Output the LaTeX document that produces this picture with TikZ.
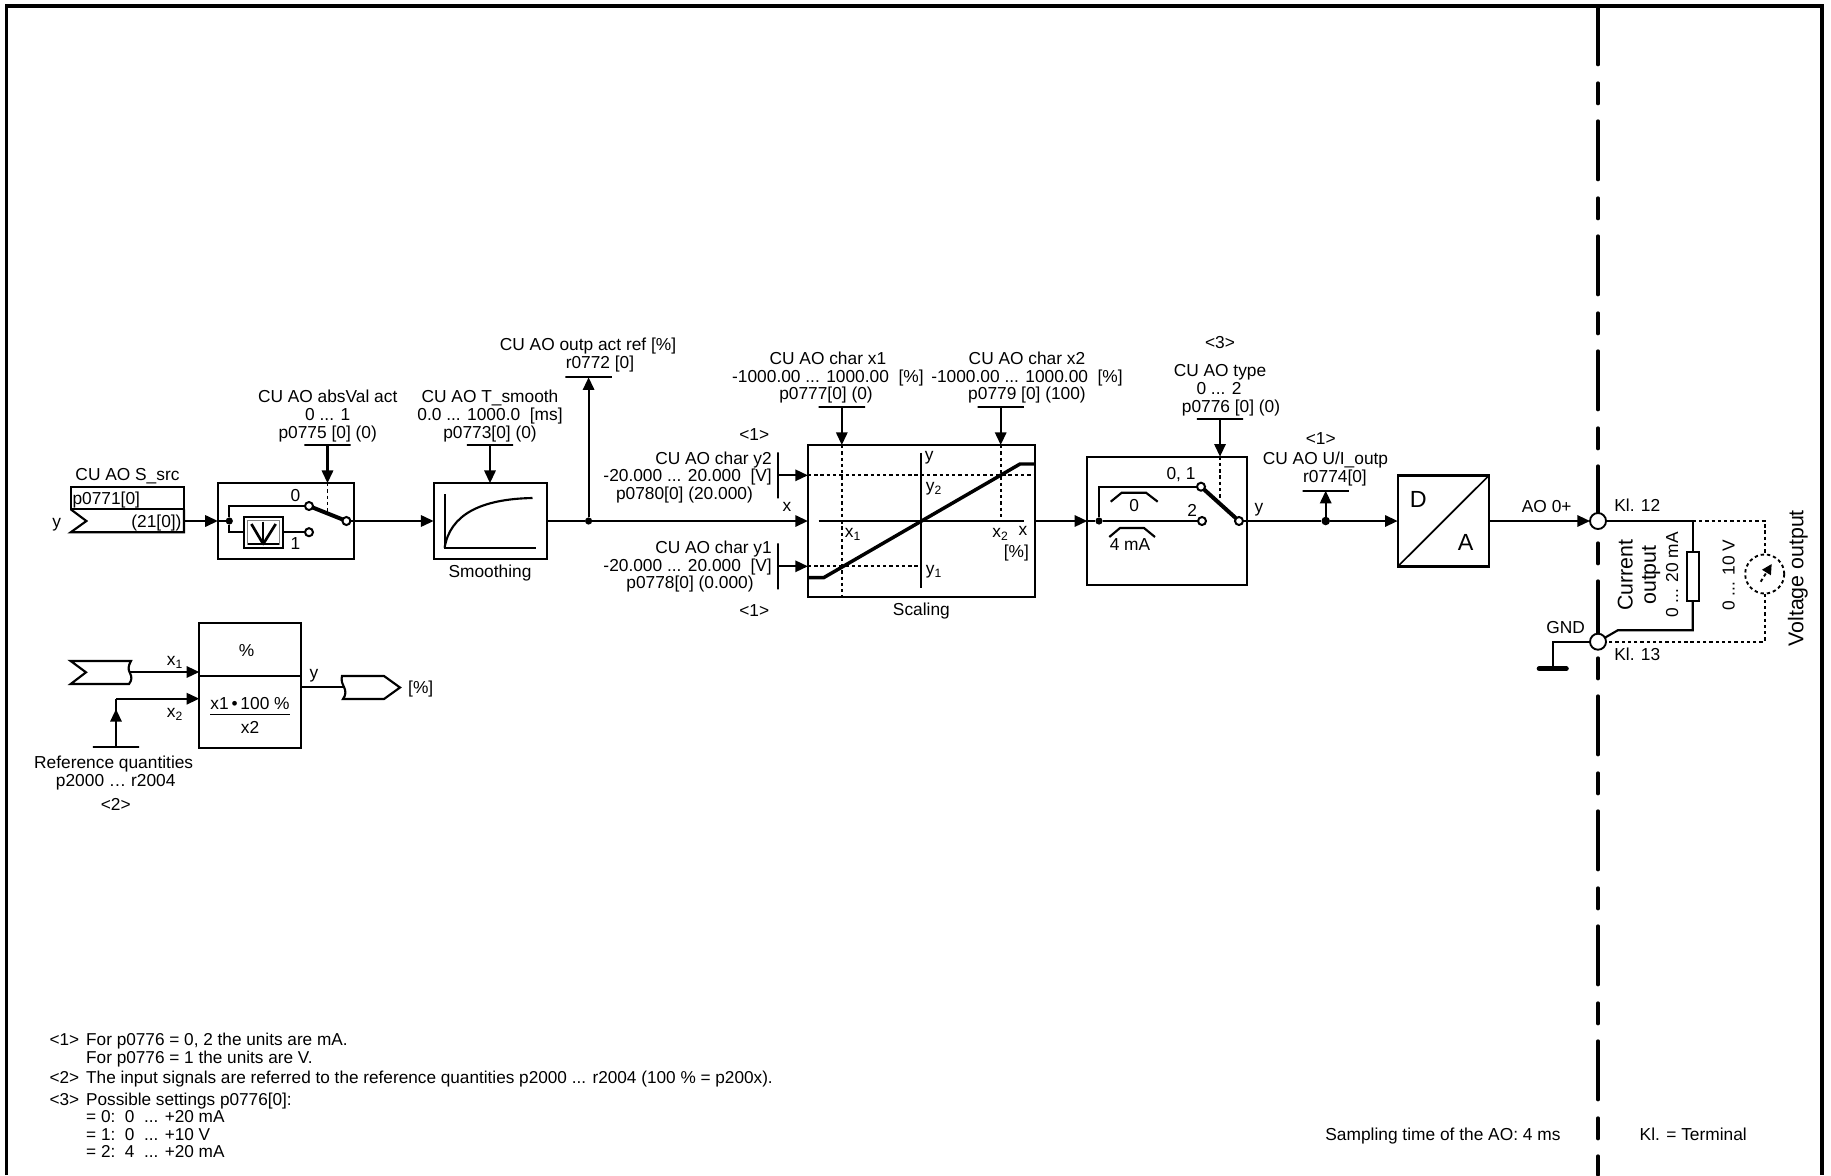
\documentclass[tikz,border=0pt]{standalone}
\usepackage{fontspec}
\setmainfont{Liberation Sans}
\usetikzlibrary{arrows.meta}

\tikzset{every picture/.style={line width=0.75pt}}
\tikzset{
txt/.style={inner sep=0pt, outer sep=0pt, text height=9.3pt, text depth=0pt, font=\fontsize{13}{15}\selectfont},
notetxt/.style={txt, anchor=west, font=\fontsize{12.9}{15}\selectfont},
bigtxt/.style={inner sep=0pt, outer sep=0pt, text height=11.5pt, text depth=0pt, font=\fontsize{16}{19}\selectfont},
hugetxt/.style={inner sep=0pt, outer sep=0pt, text height=12.6pt, text depth=0pt, font=\fontsize{17.5}{20}\selectfont},
blockbox/.style={draw, rectangle, inner sep=0pt, outer sep=0pt, line width=1.6pt},
wire/.style={line width=1.6pt},
sig/.style={line width=1.6pt, -{Triangle[length=9.5pt,width=8.5pt]}},
heavy/.style={line width=3pt, line join=round},
dotline/.style={line width=1.4pt, dash pattern=on 2.5pt off 2.2pt},
contact/.style={draw, circle, fill=white, inner sep=0pt, outer sep=0pt, minimum size=6pt, line width=1.5pt},
terminal/.style={draw, circle, fill=white, inner sep=0pt, outer sep=0pt, minimum size=12pt, line width=1.4pt},
dot/.style={circle, fill=black, inner sep=0pt, outer sep=0pt, minimum size=5.4pt},
parbar/.style={draw, rectangle, inner sep=0pt, outer sep=0pt, minimum width=34.8pt, minimum height=0pt, line width=1.5pt},
parbarv/.style={draw, rectangle, inner sep=0pt, outer sep=0pt, minimum width=0pt, minimum height=34.5pt, line width=1.5pt},
sepline/.style={line width=2.5pt, line cap=round, dash pattern=on 44pt off 13.75pt on 15.5pt off 13pt},
frameline/.style={line width=2.8pt}
}

\begin{document}
\begin{tikzpicture}[x=0.75pt,y=0.75pt,yscale=-1,xscale=1]
\useasboundingbox (0,0) rectangle (1831,1175);

%Frame and boundary
\draw [frameline] (6.5,1175) -- (6.5,6) -- (1822,6) -- (1822,1175) ;
\draw [sepline] (1598,6) -- (1598,1175) ;

%Blocks
\node [blockbox, minimum width=85pt, minimum height=16.7pt] (srcpar) at (127.35,498.15) {};
\node [blockbox, minimum width=102.3pt, minimum height=56.8pt] (absbox) at (286.1,521) {};
\node [blockbox, minimum width=29pt, minimum height=23.3pt] (absicon) at (263.6,532.2) {};
\node [blockbox, minimum width=85.1pt, minimum height=56.8pt] (smoothbox) at (490.35,521) {};
\node [blockbox, minimum width=170.3pt, minimum height=114pt] (scalebox) at (921.45,521) {};
\node [blockbox, minimum width=119.6pt, minimum height=96.5pt] (typebox) at (1167,521) {};
\node [blockbox, minimum width=68.5pt, minimum height=68.3pt] (dabox) at (1443.35,521) {};
\node [blockbox, minimum width=76.3pt, minimum height=39.5pt] (pcttop) at (250.15,649.65) {};
\node [blockbox, minimum width=76.3pt, minimum height=53.8pt] (pctbot) at (250.15,711.85) {};
\node [draw, rectangle, fill=white, inner sep=0pt, outer sep=0pt, minimum width=9pt, minimum height=36.8pt, line width=1.4pt] (resistor) at (1692.7,576.2) {};
\node [draw, circle, inner sep=0pt, outer sep=0pt, minimum size=29.3pt, dotline] (meter) at (1764.7,574) {};

%Contacts and junctions
\node [contact] (abszero) at (309,506) {};
\node [contact] (absone) at (309,532.2) {};
\node [contact] (absout) at (346.4,521) {};
\node [contact] (typezero) at (1201,486.7) {};
\node [contact] (typetwo) at (1202,521) {};
\node [contact] (typeout) at (1239,521) {};
\node [dot] (absdot) at (229.3,521) {};
\node [dot] (outdot) at (588.6,521) {};
\node [dot] (typedot) at (1099,521) {};
\node [dot, minimum size=6.4pt] (uidot) at (1325.7,521) {};
\node [terminal] (klup) at (1598,521) {};
\node [terminal] (kldown) at (1598,641.7) {};

%Parameter bars
\node [parbar] (absbar) at (327.5,445.3) {};
\node [parbar] (smoothbar) at (490,445.3) {};
\node [parbar] (outbar) at (588.6,377.3) {};
\node [parbar] (xonebar) at (841.8,407.3) {};
\node [parbar] (xtwobar) at (1000.7,407.3) {};
\node [parbar] (typebar) at (1220,418.7) {};
\node [parbar] (uibar) at (1325.7,490.7) {};
\node [parbar] (refbar) at (116,747.3) {};
\node [parbarv] (ytwobar) at (777.9,475.3) {};
\node [parbarv] (yonebar) at (777.9,566.3) {};

\coordinate (srcout) at (184,521);
\coordinate (xoneout) at (129,672);
\coordinate (xtwocorner) at (116,698.7);
\coordinate (pctout) at (343,687);
\coordinate (jtop) at (1692.7,521);
\coordinate (jbot) at (1692.7,630.3);
\coordinate (jbend) at (1617.7,630.3);
\coordinate (gndpt) at (1552.7,668.7);

%Source and sink shapes
\draw [wire] (70.7,509.3) -- (86.4,521) -- (70.7,532.3) -- (184,532.3) -- (184,509.3) ;
\draw [wire] (131,661) -- (70.7,661) -- (86,672.3) -- (70.7,684) -- (129,684) .. controls (132,680) and (132,677) .. (130,673) .. controls (128,670) and (128,666) .. (131,661) -- cycle ;
\draw [wire] (342,676) -- (384,676) -- (400,687.5) -- (384,699) -- (343,699) .. controls (346,695) and (346,691) .. (344,687) .. controls (342,683) and (341,680) .. (342,676) -- cycle ;

%Connectors
\draw [sig] (srcout) -- (absbox.west) ;
\draw [wire] (absbox.west) -- (absdot) ;
\draw [wire] (absdot) |- (abszero) ;
\draw [wire] (absdot) |- (absicon) ;
\draw [wire] (absicon) -- (absone) ;
\draw [heavy] (abszero) -- (absout) ;
\draw [sig] (absout) -- (smoothbox.west) ;
\draw [wire] (smoothbox.east) -- (outdot) ;
\draw [sig] (outdot) -- (scalebox.west) ;
\draw [sig] (outdot) -- (outbar) ;
\draw [sig] (scalebox.east) -- (typebox.west) ;
\draw [wire] (typebox.west) -- (typedot) ;
\draw [wire] (typedot) |- (typezero) ;
\draw [wire] (typedot) -- (typetwo) ;
\draw [heavy] (typezero) -- (typeout) ;
\draw [wire] (typeout) -- (uidot) ;
\draw [sig] (uidot) -- (dabox.west) ;
\draw [sig] (uidot) -- (uibar) ;
\draw [sig] (dabox.east) -- (klup) ;
\draw [wire] (klup) -- (jtop) -- (resistor) ;
\draw [wire] (resistor) -- (jbot) -- (jbend) -- (kldown) ;
\draw [wire] (kldown) -| (gndpt) ;
\draw [line width=3.8pt, line cap=round] (gndpt) ++(-13.5,0) -- ++(27,0) ;
\draw [dotline] (jtop) -- (jtop -| meter) -- (meter) ;
\draw [dotline] (meter) |- (kldown) ;
\draw [sig] (absbar) -- (absbar |- absbox.north) ;
\draw [sig] (smoothbar) -- (smoothbar |- smoothbox.north) ;
\draw [sig] (xonebar) -- (xonebar |- scalebox.north) ;
\draw [sig] (xtwobar) -- (xtwobar |- scalebox.north) ;
\draw [sig] (typebar) -- (typebar |- typebox.north) ;
\draw [sig] (ytwobar) -- (ytwobar -| scalebox.west) ;
\draw [sig] (yonebar) -- (yonebar -| scalebox.west) ;
\draw [sig] (xoneout) -- (xoneout -| pcttop.west) ;
\draw [sig] (refbar) -- (xtwocorner |- 0,709) ;
\draw [wire] (xtwocorner |- 0,712) -- (xtwocorner) ;
\draw [sig] (xtwocorner) -- (xtwocorner -| pctbot.west) ;
\draw [wire] (pctout -| pctbot.east) -- (pctout) ;

%Switch dash lines
\draw [dotline] (absbar |- absbox.north) -- (327.5,513) ;
\draw [dotline] (typebar |- typebox.north) -- (1220,499) ;
\draw [dotline] (xonebar |- scalebox.north) -- (xonebar |- scalebox.south) ;
\draw [dotline] (xtwobar |- scalebox.north) -- (xtwobar |- scalebox.center) ;
\draw [dotline] (ytwobar -| scalebox.west) -- (ytwobar -| scalebox.east) ;
\draw [dotline] (yonebar -| scalebox.west) -- (yonebar -| scalebox.center) ;

%Absolute value icon
\draw [gray, line width=0.7pt] (247.6,520) rectangle (279.6,544.4) ;
\draw [line width=2pt, line join=round] (251.4,524) -- (263.2,544) -- (275.7,524) ;
\draw [wire] (263.2,521.7) -- (263.2,544) ;
\draw [wire] (247.9,543.7) -- (279.3,543.7) ;

%Smoothing curve
\draw [wire] (444.6,494.3) -- (444.6,547.7) -- (536,547.7) ;
\draw [wire] (444.6,547.7) .. controls (450,515) and (480,499) .. (532.5,498) ;

%Characteristic
\draw [wire] (818.6,521) -- (1024,521) ;
\draw [wire] (921.4,452.7) -- (921.4,588.3) ;
\draw [line width=2.6pt, line join=round] (scalebox.west |- 0,577.7) -- (823.6,577.7) -- (1020,464) -- (scalebox.east |- 0,464) ;

%Ramps of the type switch
\draw [wire] (1110.7,501.7) -- (1121.7,492.7) -- (1146,492.7) -- (1157.7,501.7) ;
\draw [wire] (1109.3,537) -- (1120,528) -- (1144,528) -- (1155,537) ;

%Fraction line and DA diagonal
\draw [line width=1.1pt] (210.3,714.7) -- (289.7,714.7) ;
\draw [line width=1.3pt] (dabox.south west) -- (dabox.north east) ;

%Meter pointer
\draw [dotline, -{Triangle[length=7.5pt,width=7.5pt]}] (1760.7,581.7) -- (1771.7,564) ;

% Text Node
\node [txt] (srcname) at (127.5,474) {CU AO S\_src};
\node [txt, anchor=west] (srcvalue) at (72.5,498) {p0771[0]};
\node [txt, anchor=east] (srcindex) at (181.5,521) {(21[0])};
\node [txt] (srcy) at (56.8,521) {y};
% Text Node
\node [txt] (absname) at (327.7,396) {CU AO absVal act};
\node [txt] (absrange) at (327.7,414.3) {0 ... 1};
\node [txt] (abspar) at (327.7,432.3) {p0775 [0] (0)};
\node [txt] (abslabelzero) at (295.4,495.7) {0};
\node [txt] (abslabelone) at (295.4,543.3) {1};
% Text Node
\node [txt] (smoothname) at (490,396) {CU AO T\_smooth};
\node [txt] (smoothrange) at (490,414.3) {0.0 ... 1000.0\ \ [ms]};
\node [txt] (smoothpar) at (490,432.3) {p0773[0] (0)};
\node [txt] (smoothlabel) at (490,571.7) {Smoothing};
% Text Node
\node [txt] (outname) at (588,344.3) {CU AO outp act ref [\%]};
\node [txt] (outpar) at (600,362.7) {r0772 [0]};
% Text Node
\node [txt] (xonename) at (827.9,358.3) {CU AO char x1};
\node [txt] (xonerange) at (827.9,376) {-1000.00 ... 1000.00\ \ [\%]};
\node [txt] (xonepar) at (826,393.7) {p0777[0] (0)};
\node [txt] (xtwoname) at (1027,358.3) {CU AO char x2};
\node [txt] (xtworange) at (1027,376) {-1000.00 ... 1000.00\ \ [\%]};
\node [txt] (xtwopar) at (1027,393.7) {p0779 [0] (100)};
% Text Node
\node [txt] (noteup) at (754.3,434) {<1>};
\node [txt, anchor=east] (ytwoname) at (771.8,458.3) {CU AO char y2};
\node [txt, anchor=east] (ytworange) at (771.8,475) {-20.000 ... 20.000\ \ [V]};
\node [txt, anchor=east] (ytwopar) at (752.9,493.3) {p0780[0] (20.000)};
\node [txt, anchor=east] (yonename) at (771.8,547.3) {CU AO char y1};
\node [txt, anchor=east] (yonerange) at (771.8,565) {-20.000 ... 20.000\ \ [V]};
\node [txt, anchor=east] (yonepar) at (753.6,582.7) {p0778[0] (0.000)};
\node [txt] (notedown) at (754.3,610.7) {<1>};
\node [txt] (inx) at (787,505.7) {x};
% Text Node
\node [txt] (charyaxis) at (929.3,454.3) {y};
\node [txt] (charytwo) at (934,485) {y\textsubscript{2}};
\node [txt] (charyone) at (934,568.3) {y\textsubscript{1}};
\node [txt] (charxone) at (853,531) {x\textsubscript{1}};
\node [txt] (charxtwo) at (1000.4,531) {x\textsubscript{2}};
\node [txt] (charxaxis) at (1022.9,529) {x};
\node [txt] (charunit) at (1016.4,551.7) {[\%]};
\node [txt] (scalelabel) at (921.4,609) {Scaling};
% Text Node
\node [txt] (typenote) at (1220,342.7) {<3>};
\node [txt] (typename) at (1220,370) {CU AO type};
\node [txt] (typerange) at (1219,388) {0 ... 2};
\node [txt] (typepar) at (1231,406) {p0776 [0] (0)};
\node [txt] (typelabelzero) at (1181,473.3) {0, 1};
\node [txt] (typelabeltwo) at (1192.3,510) {2};
\node [txt] (rampzero) at (1134.3,505.7) {0};
\node [txt] (rampfour) at (1130,544) {4 mA};
\node [txt] (typey) at (1259,506.7) {y};
% Text Node
\node [txt] (uinote) at (1320.7,438.7) {<1>};
\node [txt] (uiname) at (1325.5,458.3) {CU AO U/I\_outp};
\node [txt] (uipar) at (1335,476) {r0774[0]};
\node [hugetxt] (dalabel) at (1418.3,499) {D};
\node [hugetxt] (adlabel) at (1465.7,542.3) {A};
% Text Node
\node [txt] (aolabel) at (1546.7,506) {AO 0+};
\node [txt] (klone) at (1637.3,505) {Kl. 12};
\node [txt] (kltwo) at (1637.3,654) {Kl. 13};
\node [txt] (gndlabel) at (1565.7,627) {GND};
\node [bigtxt, rotate=90] (curone) at (1625,575) {Current};
\node [bigtxt, rotate=90] (curtwo) at (1648.3,575) {output};
\node [txt, rotate=90] (currange) at (1672,575) {0 ... 20 mA};
\node [txt, rotate=90] (voltrange) at (1728.3,575) {0 ... 10 V};
\node [bigtxt, rotate=90] (voltname) at (1795.7,578.3) {Voltage output};
% Text Node
\node [txt] (pctsign) at (246.7,650) {\%};
\node [txt] (pctxone) at (175,659) {x\textsubscript{1}};
\node [txt] (pctxtwo) at (175,711) {x\textsubscript{2}};
\node [txt] (pctnum) at (250,703.3) {x1\,•\,100 \%};
\node [txt] (pctden) at (250,727.7) {x2};
\node [txt] (pcty) at (314,672.3) {y};
\node [txt] (pctunit) at (420.7,687.3) {[\%]};
\node [txt] (refname) at (113.7,762) {Reference quantities};
\node [txt] (refpar) at (115.7,780) {p2000 … r2004};
\node [txt] (refnote) at (115.7,804) {<2>};
% Text Node
\node [notetxt] (noteonekey) at (49.5,1039.3) {<1>};
\node [notetxt] (noteone) at (86.2,1039.3) {For p0776 = 0, 2 the units are mA.};
\node [notetxt] (noteonemore) at (86.2,1057.7) {For p0776 = 1 the units are V.};
\node [notetxt] (notetwokey) at (49.5,1077) {<2>};
\node [notetxt] (notetwo) at (86.2,1077) {The input signals are referred to the reference quantities p2000 ... r2004 (100 \% = p200x).};
\node [notetxt] (notethreekey) at (49.5,1099) {<3>};
\node [notetxt] (notethree) at (86.2,1099) {Possible settings p0776[0]:};
\node [notetxt] (settingzero) at (86.2,1116.5) {= 0:\ \ 0\ \ ... +20 mA};
\node [notetxt] (settingone) at (86.2,1134) {= 1:\ \ 0\ \ ... +10 V};
\node [notetxt] (settingtwo) at (86.2,1151.7) {= 2:\ \ 4\ \ ... +20 mA};
\node [txt, anchor=west] (samplelabel) at (1325.4,1134.3) {Sampling time of the AO: 4 ms};
\node [txt, anchor=west] (termlabel) at (1639.7,1134.3) {Kl. = Terminal};

\end{tikzpicture}
\end{document}
